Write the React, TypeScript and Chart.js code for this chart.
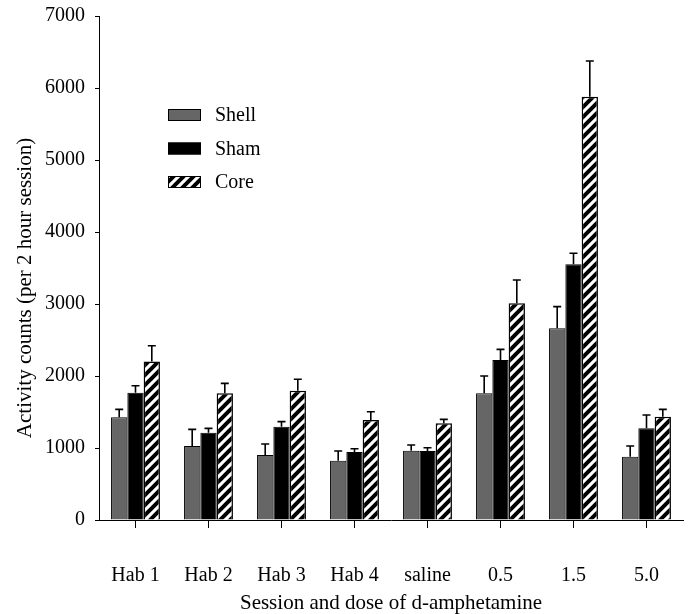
import React, { useEffect, useRef } from 'react';
import { Chart, registerables } from 'chart.js';

Chart.register(...registerables);

const categories = ['Hab 1', 'Hab 2', 'Hab 3', 'Hab 4', 'saline', '0.5', '1.5', '5.0'];
const seriesNames = ['Shell', 'Sham', 'Core'];
const shellValues = [1426, 1028, 903, 824, 963, 1759, 2662, 880];
const shellErrors = [111, 231, 153, 134, 79, 241, 301, 148];
const shamValues = [1768, 1213, 1296, 944, 960, 2222, 3551, 1273];
const shamErrors = [97, 60, 70, 46, 44, 148, 153, 185];
const coreValues = [2200, 1759, 1796, 1389, 1343, 3009, 5879, 1435];
const coreErrors = [220, 139, 158, 115, 55, 324, 496, 102];
const yMin = 0;
const yMax = 7000;
const yStep = 1000;
const xTitle = 'Session and dose of d-amphetamine';
const yTitle = 'Activity counts (per 2 hour session)';

const FONT = "'Liberation Serif', 'Times New Roman', serif";

function makeHatch(): CanvasPattern | string {
  const c = document.createElement('canvas');
  c.width = 10;
  c.height = 10;
  const g = c.getContext('2d');
  if (!g) return '#fff';
  g.fillStyle = '#ffffff';
  g.fillRect(0, 0, 10, 10);
  g.strokeStyle = '#000000';
  g.lineWidth = 4;
  g.beginPath();
  g.moveTo(-5, 5); g.lineTo(5, -5);
  g.moveTo(-1, 11); g.lineTo(11, -1);
  g.moveTo(5, 15); g.lineTo(15, 5);
  g.stroke();
  const p = g.createPattern(c, 'repeat');
  return p || '#fff';
}

const errorBarPlugin = {
  id: 'errorBars',
  afterDatasetsDraw(chart: any) {
    const ctx = chart.ctx;
    const y = chart.scales.y;
    chart.data.datasets.forEach((ds: any, di: number) => {
      const meta = chart.getDatasetMeta(di);
      meta.data.forEach((bar: any, i: number) => {
        const top = y.getPixelForValue(ds.data[i] + ds.errors[i]);
        ctx.save();
        ctx.strokeStyle = '#000';
        ctx.lineWidth = 1.6;
        ctx.beginPath();
        ctx.moveTo(bar.x, bar.y);
        ctx.lineTo(bar.x, top);
        ctx.moveTo(bar.x - 4, top);
        ctx.lineTo(bar.x + 4, top);
        ctx.stroke();
        ctx.restore();
      });
    });
  },
};

const legendPlugin = {
  id: 'customLegend',
  afterDraw(chart: any) {
    const { ctx, chartArea } = chart;
    const x0 = chartArea.left + 69;
    const y0 = chartArea.top + 93;
    chart.data.datasets.forEach((ds: any, k: number) => {
      const yy = y0 + k * 33.5;
      ctx.save();
      ctx.fillStyle = ds.backgroundColor;
      ctx.fillRect(x0, yy, 33, 12);
      ctx.strokeStyle = '#000';
      ctx.lineWidth = 1;
      ctx.strokeRect(x0 + 0.5, yy + 0.5, 32, 11);
      ctx.fillStyle = '#000';
      ctx.font = `20px ${FONT}`;
      ctx.textBaseline = 'middle';
      ctx.textAlign = 'left';
      ctx.fillText(ds.label, x0 + 47, yy + 7);
      ctx.restore();
    });
  },
};

const yTitlePlugin = {
  id: 'yTitle',
  afterDraw(chart: any) {
    const { ctx, chartArea } = chart;
    ctx.save();
    ctx.translate(25, chartArea.bottom - 232);
    ctx.rotate(-Math.PI / 2);
    ctx.fillStyle = '#000';
    ctx.font = `21px ${FONT}`;
    ctx.textAlign = 'center';
    ctx.textBaseline = 'middle';
    ctx.fillText(yTitle, 0, 0);
    ctx.restore();
  },
};

export default function App() {
  const ref = useRef<HTMLCanvasElement | null>(null);
  useEffect(() => {
    document.body.style.margin = '0';
    const canvas = ref.current;
    if (!canvas) return;
    const hatch = makeHatch();
    const chart = new Chart(canvas, {
      type: 'bar',
      data: {
        labels: categories,
        datasets: [
          { label: seriesNames[0], data: shellValues, errors: shellErrors, backgroundColor: '#666666', borderColor: '#000', borderWidth: 1 } as any,
          { label: seriesNames[1], data: shamValues, errors: shamErrors, backgroundColor: '#000000', borderColor: '#000', borderWidth: 1 } as any,
          { label: seriesNames[2], data: coreValues, errors: coreErrors, backgroundColor: hatch, borderColor: '#000', borderWidth: 1.5 } as any,
        ],
      },
      options: {
        animation: false,
        responsive: false,
        maintainAspectRatio: false,
        categoryPercentage: 0.67,
        barPercentage: 1.0,
        layout: { padding: { top: 16, right: 9, bottom: 0, left: 0 } },
        plugins: { legend: { display: false }, tooltip: { enabled: false } },
        scales: {
          x: {
            grid: { display: true, drawOnChartArea: false, offset: false, tickLength: 8, color: '#000', lineWidth: 1 },
            border: { display: true, color: '#000', width: 1 },
            ticks: { color: '#000', font: { family: FONT, size: 20 }, padding: 36, maxRotation: 0, autoSkip: false },
            title: { display: true, text: xTitle, color: '#000', font: { family: FONT, size: 21, lineHeight: 1.0 }, padding: { top: 0, bottom: 0 } },
            afterFit: (s: any) => { s.height = 94; s.paddingLeft = 0; s.paddingRight = 0; },
          },
          y: {
            min: yMin,
            max: yMax,
            ticks: { stepSize: yStep, color: '#000', font: { family: FONT, size: 20 }, padding: 10, callback: (v: any) => String(v) },
            grid: { display: true, drawOnChartArea: false, tickLength: 4, color: '#000', lineWidth: 1 },
            border: { display: true, color: '#000', width: 1 },
            title: { display: false },
            afterFit: (s: any) => { s.width = 99; s.paddingTop = 0; s.paddingBottom = 0; },
          },
        },
      } as any,
      plugins: [errorBarPlugin, legendPlugin, yTitlePlugin],
    });
    return () => chart.destroy();
  }, []);
  return (
    <div style={{ width: 692, height: 614, background: '#fff' }}>
      <canvas ref={ref} width={692} height={614} style={{ display: 'block' }} />
    </div>
  );
}
